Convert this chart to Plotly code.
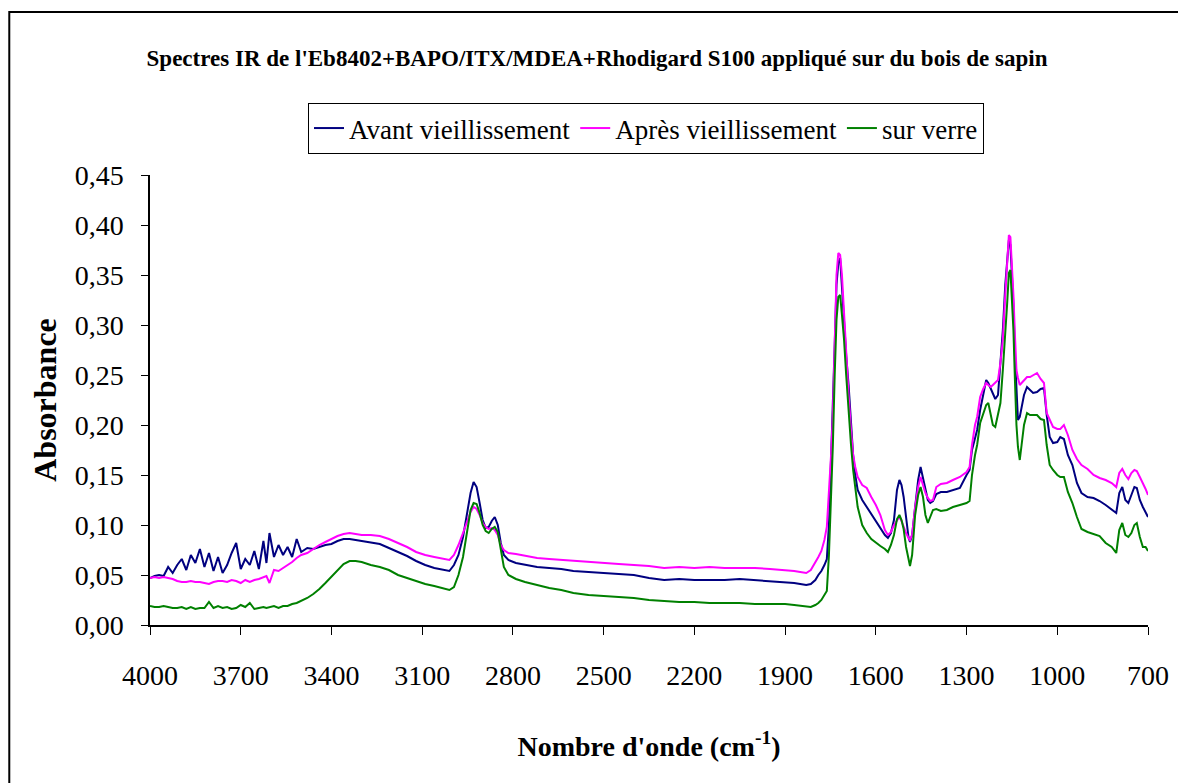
import plotly.graph_objects as go

# nombre d'onde (cm-1) et absorbances
wavenumber = [
    4000, 3985, 3970, 3955, 3940, 3925, 3910, 3895, 3880, 3865, 3850, 3835, 3820, 3805,
    3790, 3775, 3760, 3745, 3730, 3715, 3700, 3685, 3670, 3655, 3640, 3625, 3615, 3605,
    3590, 3575, 3560, 3545, 3530, 3515, 3500, 3480, 3460, 3440, 3420, 3400, 3380, 3360,
    3340, 3320, 3300, 3270, 3240, 3210, 3180, 3150, 3120, 3090, 3060, 3030, 3010, 2995,
    2980, 2965, 2950, 2940, 2930, 2920, 2910, 2900, 2890, 2880, 2870, 2860, 2850, 2840,
    2830, 2815, 2790, 2760, 2720, 2680, 2640, 2600, 2550, 2500, 2450, 2400, 2350, 2300,
    2250, 2200, 2150, 2100, 2050, 2000, 1950, 1900, 1870, 1850, 1830, 1815, 1800, 1790,
    1780, 1770, 1762, 1755, 1748, 1742, 1736, 1730, 1724, 1718, 1712, 1705, 1698, 1690,
    1682, 1675, 1668, 1660, 1645, 1630, 1615, 1600, 1585, 1570, 1560, 1550, 1540, 1530,
    1522, 1515, 1508, 1500, 1492, 1487, 1480, 1470, 1460, 1452, 1444, 1436, 1428, 1420,
    1411, 1400, 1385, 1365, 1345, 1322, 1300, 1290, 1282, 1272, 1265, 1255, 1245, 1235,
    1228, 1220, 1213, 1205, 1196, 1188, 1180, 1172, 1166, 1160, 1155, 1150, 1145, 1140,
    1135, 1130, 1124, 1118, 1110, 1100, 1090, 1080, 1067, 1055, 1044, 1035, 1025, 1014,
    1000, 990, 978, 965, 950, 935, 920, 900, 880, 860, 840, 820, 805, 795,
    785, 775, 765, 755, 745, 737, 727, 717, 708, 700,
]

avant = [
    0.047, 0.049, 0.050, 0.049, 0.058, 0.052, 0.060, 0.066, 0.055, 0.070, 0.062, 0.076, 0.058, 0.072,
    0.054, 0.068, 0.052, 0.060, 0.072, 0.082, 0.056, 0.066, 0.060, 0.074, 0.056, 0.084, 0.062, 0.092,
    0.068, 0.080, 0.070, 0.078, 0.068, 0.086, 0.073, 0.077, 0.076, 0.078, 0.080, 0.081, 0.084, 0.086,
    0.086, 0.085, 0.084, 0.083, 0.081, 0.077, 0.073, 0.069, 0.064, 0.060, 0.057, 0.055, 0.054, 0.060,
    0.070, 0.088, 0.115, 0.132, 0.143, 0.138, 0.122, 0.105, 0.097, 0.098, 0.104, 0.108, 0.100, 0.082,
    0.070, 0.065, 0.062, 0.060, 0.058, 0.057, 0.056, 0.054, 0.053, 0.052, 0.051, 0.050, 0.047, 0.045,
    0.046, 0.045, 0.045, 0.045, 0.046, 0.045, 0.044, 0.043, 0.042, 0.041, 0.040, 0.041, 0.045, 0.050,
    0.054, 0.060, 0.066, 0.100, 0.160, 0.210, 0.280, 0.340, 0.362, 0.367, 0.335, 0.300, 0.270, 0.240,
    0.200, 0.170, 0.150, 0.135, 0.125, 0.118, 0.110, 0.103, 0.097, 0.090, 0.087, 0.092, 0.105, 0.135,
    0.145, 0.140, 0.128, 0.105, 0.088, 0.083, 0.090, 0.118, 0.145, 0.158, 0.148, 0.136, 0.125, 0.122,
    0.124, 0.131, 0.133, 0.133, 0.135, 0.137, 0.150, 0.155, 0.175, 0.188, 0.195, 0.215, 0.232, 0.245,
    0.242, 0.236, 0.232, 0.226, 0.230, 0.260, 0.295, 0.340, 0.368, 0.385, 0.380, 0.350, 0.320, 0.270,
    0.230, 0.205, 0.208, 0.218, 0.230, 0.238, 0.235, 0.232, 0.233, 0.236, 0.237, 0.210, 0.188, 0.182,
    0.183, 0.188, 0.186, 0.170, 0.160, 0.142, 0.132, 0.128, 0.127, 0.124, 0.120, 0.115, 0.112, 0.132,
    0.138, 0.125, 0.122, 0.130, 0.138, 0.137, 0.125, 0.118, 0.112, 0.108,
]

apres = [
    0.047, 0.048, 0.047, 0.048, 0.047, 0.046, 0.044, 0.043, 0.043, 0.044, 0.043, 0.043, 0.042, 0.041,
    0.043, 0.044, 0.044, 0.043, 0.045, 0.044, 0.042, 0.045, 0.043, 0.045, 0.046, 0.048, 0.049, 0.042,
    0.055, 0.054, 0.057, 0.060, 0.063, 0.067, 0.070, 0.072, 0.076, 0.080, 0.083, 0.086, 0.089, 0.091,
    0.092, 0.091, 0.090, 0.090, 0.089, 0.086, 0.082, 0.078, 0.073, 0.070, 0.068, 0.066, 0.065, 0.070,
    0.080, 0.092, 0.105, 0.113, 0.118, 0.116, 0.110, 0.102, 0.098, 0.096, 0.097, 0.095, 0.090, 0.080,
    0.075, 0.072, 0.071, 0.069, 0.067, 0.066, 0.065, 0.064, 0.063, 0.062, 0.061, 0.060, 0.059, 0.057,
    0.058, 0.057, 0.058, 0.057, 0.057, 0.057, 0.056, 0.055, 0.054, 0.053, 0.052, 0.055, 0.062, 0.068,
    0.074, 0.085, 0.098, 0.130, 0.170, 0.210, 0.280, 0.350, 0.372, 0.370, 0.350, 0.310, 0.280, 0.230,
    0.195, 0.170, 0.158, 0.148, 0.140, 0.137, 0.128, 0.120, 0.110, 0.095, 0.090, 0.093, 0.100, 0.105,
    0.108, 0.104, 0.098, 0.092, 0.087, 0.085, 0.090, 0.118, 0.138, 0.148, 0.140, 0.132, 0.127, 0.124,
    0.125, 0.138, 0.141, 0.142, 0.145, 0.148, 0.153, 0.158, 0.180, 0.200, 0.208, 0.228, 0.236, 0.242,
    0.240, 0.238, 0.240, 0.242, 0.245, 0.262, 0.285, 0.330, 0.365, 0.390, 0.388, 0.360, 0.330, 0.290,
    0.255, 0.247, 0.240, 0.242, 0.245, 0.248, 0.248, 0.250, 0.252, 0.246, 0.242, 0.212, 0.206, 0.198,
    0.196, 0.196, 0.200, 0.190, 0.175, 0.166, 0.160, 0.156, 0.150, 0.147, 0.145, 0.142, 0.138, 0.152,
    0.156, 0.150, 0.146, 0.152, 0.155, 0.154, 0.148, 0.142, 0.136, 0.130,
]

verre = [
    0.019, 0.018, 0.018, 0.019, 0.018, 0.017, 0.017, 0.018, 0.016, 0.018, 0.016, 0.017, 0.017, 0.023,
    0.017, 0.019, 0.017, 0.018, 0.016, 0.017, 0.020, 0.018, 0.022, 0.016, 0.017, 0.018, 0.017, 0.018,
    0.019, 0.017, 0.019, 0.019, 0.021, 0.022, 0.024, 0.027, 0.031, 0.036, 0.042, 0.048, 0.055, 0.061,
    0.064, 0.064, 0.063, 0.060, 0.058, 0.055, 0.050, 0.047, 0.044, 0.041, 0.039, 0.037, 0.035, 0.038,
    0.050, 0.068, 0.098, 0.115, 0.122, 0.121, 0.112, 0.100, 0.094, 0.092, 0.096, 0.098, 0.093, 0.075,
    0.058, 0.050, 0.046, 0.043, 0.040, 0.037, 0.035, 0.032, 0.030, 0.029, 0.028, 0.027, 0.025, 0.024,
    0.023, 0.023, 0.022, 0.022, 0.022, 0.021, 0.021, 0.021, 0.020, 0.019, 0.018, 0.018, 0.020, 0.022,
    0.025, 0.030, 0.034, 0.070, 0.125, 0.180, 0.250, 0.305, 0.328, 0.330, 0.310, 0.285, 0.250, 0.210,
    0.180, 0.155, 0.138, 0.118, 0.100, 0.092, 0.086, 0.082, 0.079, 0.076, 0.073, 0.080, 0.090, 0.106,
    0.110, 0.105, 0.096, 0.078, 0.066, 0.059, 0.070, 0.110, 0.130, 0.138, 0.128, 0.110, 0.102, 0.108,
    0.115, 0.116, 0.114, 0.115, 0.118, 0.120, 0.122, 0.124, 0.150, 0.170, 0.180, 0.202, 0.212, 0.220,
    0.222, 0.210, 0.200, 0.198, 0.212, 0.222, 0.255, 0.300, 0.320, 0.352, 0.355, 0.325, 0.295, 0.245,
    0.200, 0.178, 0.165, 0.180, 0.200, 0.212, 0.210, 0.210, 0.210, 0.206, 0.205, 0.180, 0.160, 0.155,
    0.150, 0.148, 0.148, 0.133, 0.122, 0.108, 0.096, 0.093, 0.091, 0.089, 0.082, 0.078, 0.072, 0.095,
    0.102, 0.090, 0.088, 0.092, 0.100, 0.102, 0.088, 0.078, 0.078, 0.074,
]

series = [
    ("Avant vieillissement", avant, "#000080"),
    ("Après vieillissement", apres, "#FF00FF"),
    ("sur verre", verre, "#008000"),
]

fig = go.Figure()
for name, vals, col in series:
    fig.add_trace(go.Scatter(x=wavenumber, y=vals, mode="lines", name=name,
                             line=dict(color=col, width=2)))

serif = "Liberation Serif, Times New Roman, serif"

# la page html ajoute 8 px de marge au corps : on compense ici
fig.update_layout(
    width=1178, height=775,
    margin=dict(l=142, r=38, t=167, b=158),
    paper_bgcolor="white", plot_bgcolor="white",
    separators=", ",
    font=dict(family=serif, color="black", size=27),
    title=dict(text="<b>Spectres IR de l'Eb8402+BAPO/ITX/MDEA+Rhodigard S100 appliqué sur du bois de sapin</b>",
               x=0.5, xanchor="center", y=0.935, yanchor="middle",
               font=dict(family=serif, size=23, color="black")),
    showlegend=True,
    legend=dict(orientation="h", x=0.497, xanchor="center", y=1.16, yanchor="top",
                bordercolor="black", borderwidth=1, bgcolor="white",
                font=dict(family=serif, size=27, color="black"),
                itemwidth=30, tracegroupgap=0),
    xaxis=dict(range=[4000, 700], tick0=700, dtick=300, tickformat="d",
               showline=True, linecolor="black", linewidth=1.5,
               ticks="outside", ticklen=8, tickcolor="black",
               ticklabelstandoff=17, showgrid=False, zeroline=False,
               tickfont=dict(size=28),
               title=dict(text="<b>Nombre d'onde (cm<sup>-1</sup>)</b>", standoff=46,
                          font=dict(size=28))),
    yaxis=dict(range=[0, 0.45], dtick=0.05, tickformat=".2f",
               showline=True, linecolor="black", linewidth=1.5,
               ticks="outside", ticklen=7, tickcolor="black",
               ticklabelstandoff=12, showgrid=False, zeroline=False,
               tickfont=dict(size=28),
               title=dict(text="<b>Absorbance</b>", standoff=8,
                          font=dict(size=32))),
    shapes=[dict(type="rect", xref="paper", yref="paper",
                 x0=-0.141, x1=1.2, y0=-0.6, y1=1.3622,
                 line=dict(color="black", width=2), fillcolor="rgba(0,0,0,0)")],
)

fig.write_html("out.html")
